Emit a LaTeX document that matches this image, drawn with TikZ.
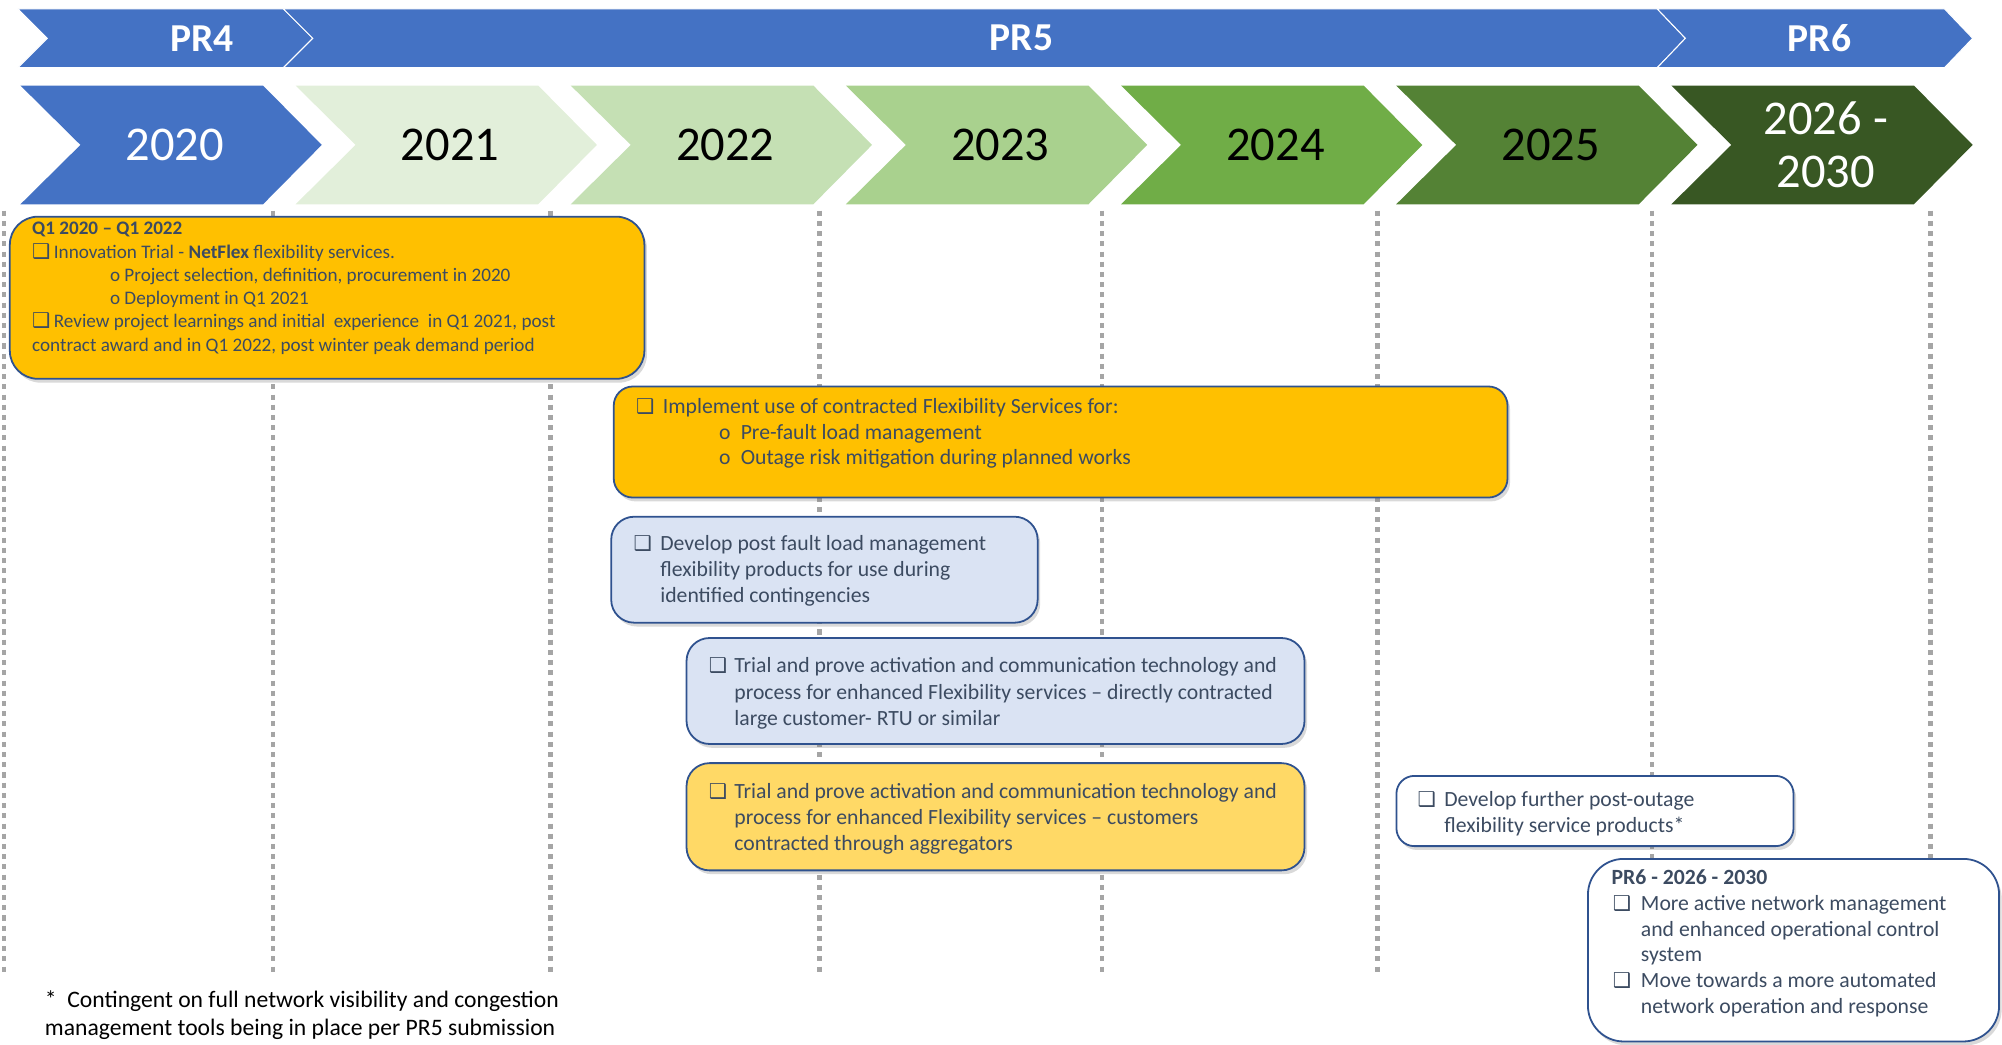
\documentclass[tikz,border=0pt]{standalone}
\usepackage{fontspec}
\setmainfont{Carlito}
\newfontfamily\symfont{DejaVu Sans}
\usetikzlibrary{shadows}

\definecolor{prblue}{HTML}{4472C4}
\definecolor{yrA}{HTML}{4472C4}
\definecolor{yrB}{HTML}{E2EFDA}
\definecolor{yrC}{HTML}{C5E0B4}
\definecolor{yrD}{HTML}{A9D18E}
\definecolor{yrE}{HTML}{70AD47}
\definecolor{yrF}{HTML}{548235}
\definecolor{yrG}{HTML}{385723}
\definecolor{orng}{HTML}{FFC000}
\definecolor{lyel}{HTML}{FFD966}
\definecolor{lblue}{HTML}{DAE3F3}
\definecolor{edge}{HTML}{2F528F}
\definecolor{txtgray}{HTML}{3C4B61}
\definecolor{dotgray}{HTML}{A5A5A5}

\newcommand{\chk}[1]{\makebox[#1][l]{{\symfont\fontsize{16}{16}\selectfont ❑}}}
\newcommand{\bul}[1]{\makebox[#1][l]{o}}

\tikzset{
  card/.style={draw=edge, line width=1.4pt, rounded corners=#1, anchor=north west,
    inner sep=0pt, drop shadow={shadow xshift=2pt, shadow yshift=-3pt, opacity=0.3}},
  boxtxt/.style={anchor=north west, inner sep=0pt, align=left, text=txtgray},
  gridline/.style={dotgray, line width=3.5pt, dash pattern=on 4pt off 4pt},
  prlabel/.style={text=white, font=\bfseries\fontsize{31}{32}\selectfont},
  yearlabel/.style={font=\fontsize{38}{42}\selectfont, align=center}
}

\begin{document}
\begin{tikzpicture}[x=1pt,y=-1pt]
\useasboundingbox (0,0) rectangle (1568,818);

% periods
\filldraw[prblue, draw=white, line width=0.8pt]
  (14,7) -- (222,7) -- (245,30) -- (222,53) -- (14,53) -- (37,30) -- cycle;
\filldraw[prblue, draw=white, line width=0.8pt]
  (222,7) -- (1298,7) -- (1320,30) -- (1298,53) -- (222,53) -- (245,30) -- cycle;
\filldraw[prblue, draw=white, line width=0.8pt]
  (1298,7) -- (1523,7) -- (1545,30) -- (1523,53) -- (1298,53) -- (1320,30) -- cycle;
\node[prlabel] (pr4) at (158,30) {PR4};
\node[prlabel] (pr5) at (800,30) {PR5};
\node[prlabel] (pr6) at (1425,30) {PR6};

% years
\foreach \yr/\col/\tc [count=\i from 0] in {2020/yrA/white, 2021/yrB/black,
    2022/yrC/black, 2023/yrD/black, 2024/yrE/black, 2025/yrF/black}
{
  \pgfmathsetmacro\xl{16+215.5*\i}
  \fill[\col] (\xl,67) -- ++(190,0) -- ++(46,46.5) -- ++(-46,46.5) -- ++(-190,0)
    -- ++(47,-46.5) -- cycle;
  \node[yearlabel, text=\tc] (y\yr) at (\xl+121,113.5) {\yr};
}
\fill[yrG] (1309,67) -- ++(190,0) -- ++(46,46.5) -- ++(-46,46.5) -- ++(-190,0)
  -- ++(47,-46.5) -- cycle;
\node[yearlabel, text=white] (y2026) at (1430,113.5) {2026 -\\2030};

% dotted year marks
\foreach \x in {3,214,431,642,863,1079,1294,1512}
  \draw[gridline] (\x,165) -- (\x,763);

% boxes
\node[card=22pt, fill=orng, minimum width=497pt, minimum height=127pt] (q1box) at (7,169) {};
\node[boxtxt, font=\fontsize{15}{18.2}\selectfont] (q1txt) at (25,174)
  {\textbf{Q1 2020 – Q1 2022}\\
   \chk{17pt}Innovation Trial - \textbf{NetFlex} flexibility services.\\
   \hspace*{61pt}o Project selection, definition, procurement in 2020\\
   \hspace*{61pt}o Deployment in Q1 2021\\
   \chk{17pt}Review project learnings and initial\ \ experience\ \ in Q1 2021, post\\
   contract award and in Q1 2022, post winter peak demand period};

\node[card=15pt, fill=orng, minimum width=700pt, minimum height=87pt] (implbox) at (480,302) {};
\node[boxtxt, font=\fontsize{17}{20}\selectfont] (impltxt) at (498,312)
  {\chk{21pt}Implement use of contracted Flexibility Services for:\\
   \hspace*{65pt}\bul{17pt}Pre-fault load management\\
   \hspace*{65pt}\bul{17pt}Outage risk mitigation during planned works};

\node[card=18pt, fill=lblue, minimum width=334pt, minimum height=83pt] (postbox) at (478,404) {};
\node[boxtxt, font=\fontsize{17}{20.5}\selectfont] (posttxt) at (496,419)
  {\chk{21pt}Develop post fault load management\\
   \hspace*{21pt}flexibility products for use during\\
   \hspace*{21pt}identified contingencies};

\node[card=18pt, fill=lblue, minimum width=484pt, minimum height=83pt] (rtubox) at (537,499) {};
\node[boxtxt, font=\fontsize{17}{20.5}\selectfont] (rtutxt) at (555,515)
  {\chk{20pt}Trial and prove activation and communication technology and\\
   \hspace*{20pt}process for enhanced Flexibility services – directly contracted\\
   \hspace*{20pt}large customer- RTU or similar};

\node[card=18pt, fill=lyel, minimum width=484pt, minimum height=84pt] (aggbox) at (537,597) {};
\node[boxtxt, font=\fontsize{17}{20.5}\selectfont] (aggtxt) at (555,613)
  {\chk{20pt}Trial and prove activation and communication technology and\\
   \hspace*{20pt}process for enhanced Flexibility services – customers\\
   \hspace*{20pt}contracted through aggregators};

\node[card=14pt, fill=white, minimum width=311pt, minimum height=55pt] (outbox) at (1093,607) {};
\node[boxtxt, font=\fontsize{17}{20}\selectfont] (outtxt) at (1110,620)
  {\chk{21pt}Develop further post-outage\\
   \hspace*{21pt}flexibility service products*};

\node[card=28pt, fill=white, minimum width=322pt, minimum height=143pt] (pr6box) at (1243,672) {};
\node[boxtxt, font=\fontsize{17}{20.2}\selectfont] (pr6txt) at (1262,681)
  {\textbf{PR6 - 2026 - 2030}\\
   \hspace*{1pt}\chk{22pt}More active network management\\
   \hspace*{23pt}and enhanced operational control\\
   \hspace*{23pt}system\\
   \hspace*{1pt}\chk{22pt}Move towards a more automated\\
   \hspace*{23pt}network operation and response};

% footnote
\node[boxtxt, text=black, font=\fontsize{18.5}{22}\selectfont] (foot) at (35,776)
  {*\ \ Contingent on full network visibility and congestion\\
   management tools being in place per PR5 submission};
\end{tikzpicture}
\end{document}
